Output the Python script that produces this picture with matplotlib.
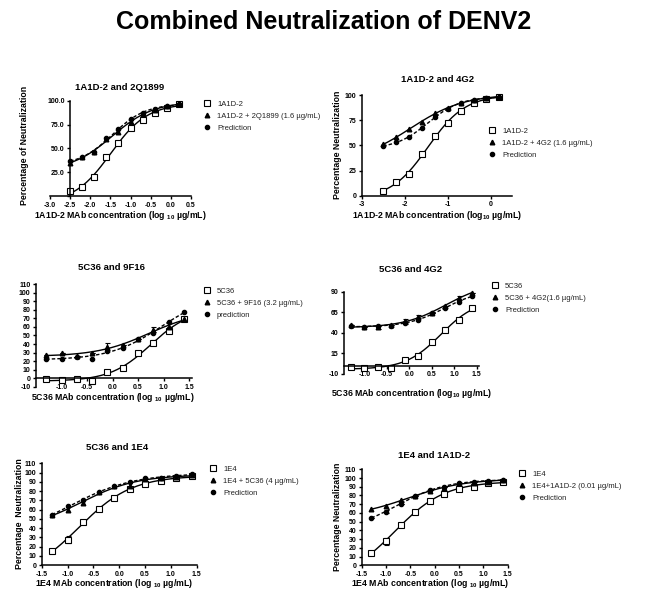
import matplotlib
matplotlib.use("Agg")
import matplotlib.pyplot as plt
from matplotlib.lines import Line2D
import numpy as np

plt.rcParams['font.family'] = ['Liberation Sans', 'DejaVu Sans']
plt.rcParams['mathtext.fontset'] = 'custom'
plt.rcParams['mathtext.rm'] = 'Liberation Sans:bold'
plt.rcParams['mathtext.bf'] = 'Liberation Sans:bold'

W, H = 648, 603

# ---- data (log10 concentrations and % neutralization) ----
log_conc_1a1d2 = [-2.5, -2.2, -1.9, -1.6, -1.3, -1.0, -0.7, -0.4, -0.1, 0.2]
log_conc = [-1.3, -1.0, -0.7, -0.4, -0.1, 0.2, 0.5, 0.8, 1.1, 1.4]

# 1A1D-2 and 2Q1899
p1_single = [5, 9, 20, 40.5, 56, 71.5, 80, 87, 92, 96.5]
p1_combo = [35, 41, 46, 60, 67, 78, 86, 90, 94, 97]
p1_pred = [37, 41, 46, 61, 70, 81, 87, 91, 94, 97]

# 1A1D-2 and 4G2
p2_single = [4.3, 14, 22, 41, 59, 72, 84.5, 92, 96, 98]
p2_combo = [51, 58, 66, 73.5, 82, 87, 92, 95, 97.5, 98]
p2_pred = [49, 53.6, 58, 67.5, 78.5, 86, 92, 95, 97, 98]

# 5C36 and 9F16
p3_single = [-1.5, -2.5, -0.6, -3, 7.6, 11.5, 29, 41.5, 55.6, 69]
p3_combo = [27, 29, 26, 30, 37, 39, 46, 57, 60, 69]
p3_pred = [23, 23, 25, 23, 32, 35, 46, 53, 66, 77]
p3_single_err = [0, 0, 0, 0, 0, 0, 0, 3, 0, 0]
p3_combo_err = [0, 0, 0, 0, 4, 0, 0, 3, 0, 0]

# 5C36 and 4G2
p4_single = [-2.3, -3.5, -1.9, -2.7, 6.7, 11.5, 29, 43.7, 55, 69.7]
p4_combo = [49, 46.5, 46.5, 50, 54, 59.5, 64.4, 72.5, 82.7, 88.8]
p4_pred = [48.5, 47, 48.5, 48.5, 52, 55.4, 63.6, 69.7, 77.8, 84.7]
p4_single_err = [0, 0, 0, 0, 0, 0, 0, 3, 0, 0]
p4_combo_err = [0, 0, 2, 0, 3, 2, 0, 0, 2.5, 0]

# 5C36 and 1E4
p5_single = [15, 27.5, 46, 60.6, 73, 82, 88, 90.6, 94, 96]
p5_combo = [54, 60, 67, 79, 85, 85, 93, 94, 95.7, 97]
p5_pred = [54, 64, 70, 79, 85, 90, 94, 94, 96.4, 98]
p5_single_err = [0, 4, 2, 0, 0, 0, 0, 0, 0, 0]

# 1E4 and 1A1D-2
p6_single = [14.5, 27.5, 46, 61.5, 73.7, 81.7, 88, 90, 94, 96]
p6_combo = [64.5, 68, 75, 79.4, 85, 89, 94, 94.7, 96, 97.7]
p6_pred = [54.6, 61.5, 70.6, 79.4, 86, 90, 94.7, 95, 97, 98]
p6_single_err = [0, 4, 2, 0, 0, 0, 0, 0, 0, 0]
p6_pred_err = [0, 2, 0, 0, 0, 0, 0, 0, 0, 0]


def fx(x):
    return x / W


def fy(y):
    return 1 - y / H


def fit_curve(x, y):
    # four-parameter logistic fitted by grid search on EC50/slope,
    # least squares for bottom/top
    x = np.asarray(x, float)
    y = np.asarray(y, float)
    best = None
    for c in np.linspace(x.min() - 1.0, x.max() + 1.5, 141):
        for h in np.linspace(0.3, 3.5, 65):
            s = 1 / (1 + 10 ** ((c - x) * h))
            A = np.column_stack([np.ones_like(s), s])
            coef = np.linalg.lstsq(A, y, rcond=None)[0]
            r = ((A @ coef - y) ** 2).sum()
            if best is None or r < best[0]:
                best = (r, c, h, coef)
    _, c, h, coef = best
    xs = np.linspace(x.min(), x.max(), 200)
    s = 1 / (1 + 10 ** ((c - xs) * h))
    return xs, coef[0] + coef[1] * s


fig = plt.figure(figsize=(W / 100, H / 100), dpi=100)
fig.text(fx(324), fy(22), 'Combined Neutralization of DENV2', ha='center', va='center',
         fontsize=18, fontweight='bold')

panels = [
    dict(title='1A1D-2 and 2Q1899', x=log_conc_1a1d2, single=p1_single, combo=p1_combo, pred=p1_pred,
         box=(50, 191, 196, 100.7), xlim=(-3.0, 0.5), ylim=(0, 100), yspine=-2.5, xspine=None,
         xticks=np.arange(-3.0, 0.51, 0.5), xfmt='%.1f', yticks=[0, 25, 50, 75, 100], yfmt='%.1f', hide_y0=True,
         names=['1A1D-2', '1A1D-2 + 2Q1899 (1.6 µg/mL)', 'Prediction'],
         ylabel='Percentage of Neutralization', ylabel_pos=(25, 145),
         xlabel='1A1D-2 MAb concentration (log $_{10}$ µg/mL)', xlabel_pos=(120, 215),
         title_pos=(120, 87), leg=(207, 105)),
    dict(title='1A1D-2 and 4G2', x=log_conc_1a1d2, single=p2_single, combo=p2_combo, pred=p2_pred,
         box=(361.7, 512.2, 195.7, 95), xlim=(-3.0, 0.5), ylim=(0, 100), yspine=None, xspine=None,
         xticks=[-3, -2, -1, 0], xfmt='%d', yticks=[0, 25, 50, 75, 100], yfmt='%d', hide_y0=False,
         names=['1A1D-2', '1A1D-2 + 4G2 (1.6 µg/mL)', 'Prediction'],
         ylabel='Percentage Neutralization', ylabel_pos=(338, 145),
         xlabel='1A1D-2 MAb concentration (log$_{10}$ µg/mL)', xlabel_pos=(437, 216),
         title_pos=(438, 79), leg=(492, 132)),
    dict(title='5C36 and 9F16', x=log_conc, single=p3_single, combo=p3_combo, pred=p3_pred,
         single_err=p3_single_err, combo_err=p3_combo_err,
         box=(36, 191.7, 386.7, 284.3), xlim=(-1.5, 1.55), ylim=(-10, 110), yspine=None, xspine=0,
         xticks=np.arange(-1.0, 1.51, 0.5), xfmt='%.1f', yticks=np.arange(-10, 111, 10), yfmt='%d', hide_y0=False,
         names=['5C36', '5C36 + 9F16 (3.2 µg/mL)', 'prediction'],
         ylabel=None, xlabel='5C36 MAb concentration (log $_{10}$ µg/mL)', xlabel_pos=(113, 398),
         title_pos=(112, 268), leg=(207, 292)),
    dict(title='5C36 and 4G2', x=log_conc, single=p4_single, combo=p4_combo, pred=p4_pred,
         single_err=p4_single_err, combo_err=p4_combo_err,
         box=(344.2, 478.8, 373.7, 291.7), xlim=(-1.45, 1.55), ylim=(-10, 90), yspine=None, xspine=0,
         xticks=np.arange(-1.0, 1.51, 0.5), xfmt='%.1f', yticks=[-10, 15, 40, 65, 90], yfmt='%d', hide_y0=False,
         names=['5C36', '5C36 + 4G2(1.6 µg/mL)', 'Prediction'],
         ylabel=None, xlabel='5C36 MAb concentration (log$_{10}$ µg/mL)', xlabel_pos=(412, 393),
         title_pos=(411, 269), leg=(495, 287)),
    dict(title='5C36 and 1E4', x=log_conc, single=p5_single, combo=p5_combo, pred=p5_pred,
         single_err=p5_single_err,
         box=(41.7, 196.7, 565, 463.3), xlim=(-1.5, 1.5), ylim=(0, 110), yspine=None, xspine=None,
         xticks=np.arange(-1.5, 1.51, 0.5), xfmt='%.1f', yticks=np.arange(0, 111, 10), yfmt='%d', hide_y0=False,
         names=['1E4', '1E4 + 5C36 (4 µg/mL)', 'Prediction'],
         ylabel='Percentage  Neutralization', ylabel_pos=(20, 514),
         xlabel='1E4 MAb concentration (log $_{10}$ µg/mL)', xlabel_pos=(114, 584),
         title_pos=(117, 448), leg=(213, 470)),
    dict(title='1E4 and 1A1D-2', x=log_conc, single=p6_single, combo=p6_combo, pred=p6_pred,
         single_err=p6_single_err, pred_err=p6_pred_err,
         box=(361.7, 507.7, 565.3, 469.3), xlim=(-1.5, 1.5), ylim=(0, 110), yspine=None, xspine=None,
         xticks=np.arange(-1.5, 1.51, 0.5), xfmt='%.1f', yticks=np.arange(0, 111, 10), yfmt='%d', hide_y0=False,
         names=['1E4', '1E4+1A1D-2 (0.01 µg/mL)', 'Prediction'],
         ylabel='Percentage Neutralization', ylabel_pos=(338, 517),
         xlabel='1E4 MAb concentration (log $_{10}$ µg/mL)', xlabel_pos=(430, 584),
         title_pos=(434, 455), leg=(522, 475)),
]

for p in panels:
    left, right, bottom, top = p['box']
    ax = fig.add_axes([fx(left), fy(bottom), (right - left) / W, (bottom - top) / H])
    ax.set_xlim(*p['xlim'])
    ax.set_ylim(*p['ylim'])
    ax.patch.set_alpha(0)
    for s in ['top', 'right']:
        ax.spines[s].set_visible(False)
    for s in ['left', 'bottom']:
        ax.spines[s].set_linewidth(1.1)
    if p['yspine'] is not None:
        ax.spines['left'].set_position(('data', p['yspine']))
    if p['xspine'] is not None:
        ax.spines['bottom'].set_position(('data', p['xspine']))

    x = p['x']
    # fitted curves
    xs, ys = fit_curve(x, p['single'])
    ax.plot(xs, ys, color='black', lw=1.0, clip_on=False)
    xs, ys = fit_curve(x, p['combo'])
    ax.plot(xs, ys, color='black', lw=1.0, clip_on=False)
    xs, ys = fit_curve(x, p['pred'])
    ax.plot(xs, ys, color='black', lw=1.0, ls=(0, (2.5, 1.5)), clip_on=False)

    # data points
    kw = dict(ls='none', color='black', elinewidth=0.8, capsize=1.8, capthick=0.8, clip_on=False)
    ax.errorbar(x, p['single'], yerr=p.get('single_err'), marker='s', ms=4.3, mfc='white',
                mec='black', mew=0.8, **kw)
    ax.errorbar(x, p['combo'], yerr=p.get('combo_err'), marker='^', ms=3.3, **kw)
    ax.errorbar(x, p['pred'], yerr=p.get('pred_err'), marker='o', ms=3.0, **kw)

    ax.set_xticks(p['xticks'])
    ax.set_xticklabels([p['xfmt'] % v for v in p['xticks']])
    ax.set_yticks(p['yticks'])
    ylabels = [p['yfmt'] % v for v in p['yticks']]
    if p['hide_y0']:
        ylabels[0] = ''
    ax.set_yticklabels(ylabels)
    ax.tick_params(direction='out', length=2.5, width=1.0, labelsize=5, pad=1.5)
    for lab in ax.get_xticklabels() + ax.get_yticklabels():
        lab.set_fontweight('bold')

    fig.text(fx(p['title_pos'][0]), fy(p['title_pos'][1]), p['title'], ha='center', va='center',
             fontsize=6.8, fontweight='bold')
    ax.set_xlabel(p['xlabel'], fontsize=6.3, fontweight='bold')
    ax.xaxis.set_label_coords(fx(p['xlabel_pos'][0]), fy(p['xlabel_pos'][1]), transform=fig.transFigure)
    ax.xaxis.label.set_va('center')
    if p['ylabel']:
        ax.set_ylabel(p['ylabel'], fontsize=6.3, fontweight='bold')
        ax.yaxis.set_label_coords(fx(p['ylabel_pos'][0]), fy(p['ylabel_pos'][1]), transform=fig.transFigure)
        ax.yaxis.label.set_va('center')

    handles = [Line2D([], [], ls='none', marker='s', ms=4.3, mfc='white', mec='black', mew=0.8),
               Line2D([], [], ls='none', marker='^', ms=3.3, color='black'),
               Line2D([], [], ls='none', marker='o', ms=3.0, color='black')]
    lx, ly = p['leg']
    ax.legend(handles, p['names'], loc='upper left', bbox_to_anchor=(fx(lx - 3), fy(ly - 4.5)),
              bbox_transform=fig.transFigure, frameon=False, borderpad=0, borderaxespad=0,
              handlelength=0.8, handletextpad=0.9, labelspacing=0.62, fontsize=5.5,
              labelcolor='#222222')

fig.savefig('out.png', dpi=100)
